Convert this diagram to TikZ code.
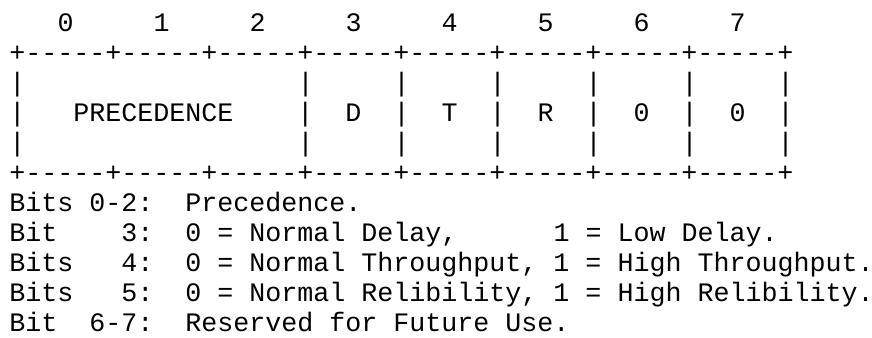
\documentclass[tikz,border=0pt]{standalone}
\usepackage{fontspec}
\newfontfamily\ascfont{Liberation Mono}
\frenchspacing
\tikzset{
  asc/.style={font=\ascfont\fontsize{20}{22}\selectfont, inner sep=0pt, outer sep=0pt, anchor=base west, text=black}
}
\begin{document}
\begin{tikzpicture}[x=0.75pt, y=-0.75pt]
\fill[white] (0,0) rectangle (872,338);
\useasboundingbox (0,0) rectangle (872,338);
\def\lx{9.5}
\node[asc] (hdr)  at (\lx, 32)  {~~~0~~~~~1~~~~~2~~~~~3~~~~~4~~~~~5~~~~~6~~~~~7};
\node[asc] (top)  at (\lx, 62)  {+-{}-{}-{}-{}-+-{}-{}-{}-{}-+-{}-{}-{}-{}-+-{}-{}-{}-{}-+-{}-{}-{}-{}-+-{}-{}-{}-{}-+-{}-{}-{}-{}-+-{}-{}-{}-{}-+};
\node[asc] (sp1)  at (\lx, 92)  {|~~~~~~~~~~~~~~~~~|~~~~~|~~~~~|~~~~~|~~~~~|~~~~~|};
\node[asc] (prec) at (\lx, 122) {|~~~PRECEDENCE~~~~|~~D~~|~~T~~|~~R~~|~~0~~|~~0~~|};
\node[asc] (sp2)  at (\lx, 152) {|~~~~~~~~~~~~~~~~~|~~~~~|~~~~~|~~~~~|~~~~~|~~~~~|};
\node[asc] (bot)  at (\lx, 182) {+-{}-{}-{}-{}-+-{}-{}-{}-{}-+-{}-{}-{}-{}-+-{}-{}-{}-{}-+-{}-{}-{}-{}-+-{}-{}-{}-{}-+-{}-{}-{}-{}-+-{}-{}-{}-{}-+};
\node[asc] (d1)   at (\lx, 212) {Bits~0-2:~~Precedence.};
\node[asc] (d2)   at (\lx, 242) {Bit~~~~3:~~0~=~Normal~Delay,~~~~~~1~=~Low~Delay.};
\node[asc] (d3)   at (\lx, 272) {Bits~~~4:~~0~=~Normal~Throughput,~1~=~High~Throughput.};
\node[asc] (d4)   at (\lx, 302) {Bits~~~5:~~0~=~Normal~Relibility,~1~=~High~Relibility.};
\node[asc] (d5)   at (\lx, 332) {Bit~~6-7:~~Reserved~for~Future~Use.};
\end{tikzpicture}
\end{document}
